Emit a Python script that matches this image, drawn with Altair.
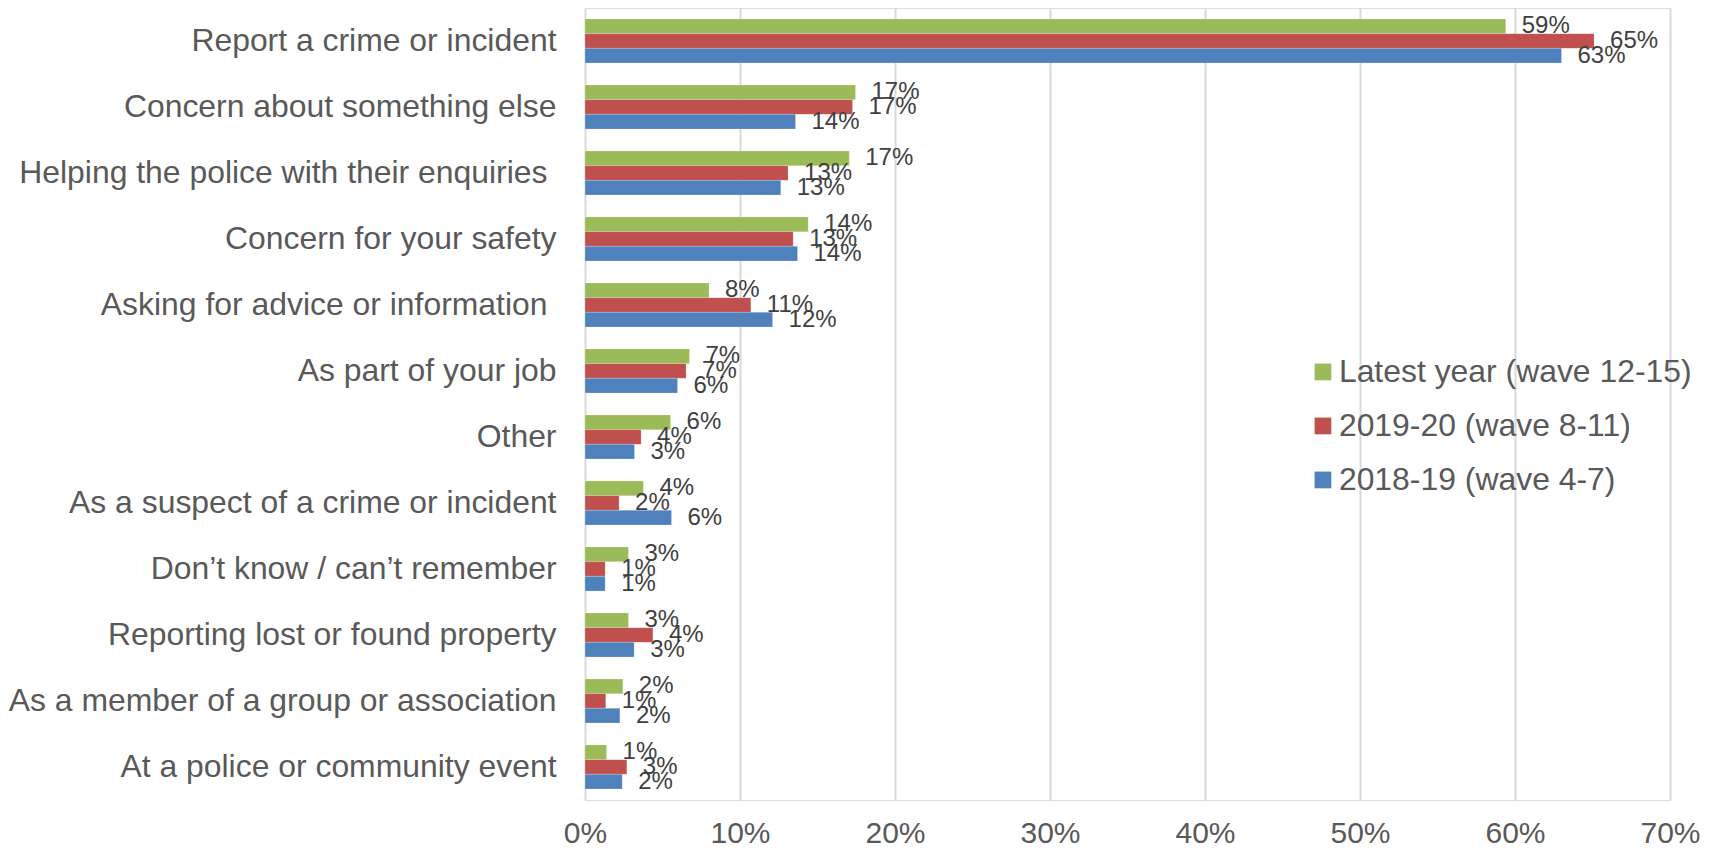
import altair as alt
import pandas as pd

categories = [
    "Report a crime or incident",
    "Concern about something else",
    "Helping the police with their enquiries ",
    "Concern for your safety",
    "Asking for advice or information ",
    "As part of your job",
    "Other",
    "As a suspect of a crime or incident",
    "Don\u2019t know / can\u2019t remember",
    "Reporting lost or found property",
    "As a member of a group or association",
    "At a police or community event",
]

series = ["Latest year (wave 12-15)", "2019-20 (wave 8-11)", "2018-19 (wave 4-7)"]
colors = ["#9BBB59", "#C0504D", "#4F81BD"]

latest = [59.4, 17.45, 17.05, 14.4, 8.0, 6.74, 5.52, 3.77, 2.8, 2.8, 2.44, 1.39]
y2019 = [65.1, 17.26, 13.1, 13.43, 10.7, 6.52, 3.62, 2.2, 1.3, 4.38, 1.34, 2.7]
y2018 = [63.0, 13.58, 12.63, 13.71, 12.1, 5.97, 3.19, 5.58, 1.3, 3.17, 2.25, 2.4]

rows = []
for s, vals in zip(series, [latest, y2019, y2018]):
    for c, v in zip(categories, vals):
        rows.append({"category": c, "series": s, "value": v / 100})
df = pd.DataFrame(rows)

FONT = "Liberation Sans"

# labels that end with a trailing space in the source sit a space further left
trail_test = "substring(datum.value, length(datum.value) - 1) == ' '"

y_enc = alt.Y(
    "category:N",
    sort=categories,
    scale=alt.Scale(paddingInner=0.333, paddingOuter=0.1667),
    axis=alt.Axis(
        title=None,
        ticks=False,
        domain=False,
        labelFontSize=31.9,
        labelColor="#595959",
        labelFont=FONT,
        labelPadding={"condition": {"test": trail_test, "value": 38}, "value": 29},
        labelLimit=0,
    ),
)
yoff = alt.YOffset("series:N", sort=series, scale=alt.Scale(paddingInner=0, paddingOuter=0))
x_enc = alt.X(
    "value:Q",
    scale=alt.Scale(domain=[0, 0.7], nice=False),
    axis=alt.Axis(
        title=None,
        values=[0, 0.1, 0.2, 0.3, 0.4, 0.5, 0.6, 0.7],
        format=".0%",
        ticks=False,
        domain=False,
        grid=True,
        gridColor="#D9D9D9",
        gridWidth=2,
        labelFontSize=30,
        labelColor="#595959",
        labelFont=FONT,
        labelPadding=18,
        labelFlush=False,
    ),
)

bars = alt.Chart(df).mark_bar(stroke="white", strokeWidth=0.5, strokeOpacity=0.4).encode(
    y=y_enc,
    yOffset=yoff,
    x=x_enc,
    color=alt.Color(
        "series:N",
        sort=series,
        scale=alt.Scale(domain=series, range=colors),
        legend=alt.Legend(
            title=None,
            orient="none",
            legendX=722,
            legendY=348,
            padding=0,
            symbolType="square",
            symbolSize=280,
            symbolStrokeWidth=0,
            labelFontSize=31.9,
            labelColor="#595959",
            labelFont=FONT,
            labelOffset=0,
            rowPadding=21,
            labelLimit=0,
        ),
    ),
)

labels = alt.Chart(df).mark_text(
    align="left", baseline="middle", dx=16, fontSize=24, font=FONT, color="#404040"
).encode(
    y=alt.Y("category:N", sort=categories),
    yOffset=alt.YOffset("series:N", sort=series),
    x="value:Q",
    text=alt.Text("value:Q", format=".0%"),
)

chart = (
    alt.layer(bars, labels)
    .properties(
        width=1085,
        height=792,
        autosize=alt.AutoSizeParams(type="none"),
        padding={"left": 577, "top": 0, "right": 41, "bottom": 44},
    )
    .configure_view(stroke=None)
    .configure(background="white")
)

chart.save("out.html", embed_options={"renderer": "svg", "actions": False})
